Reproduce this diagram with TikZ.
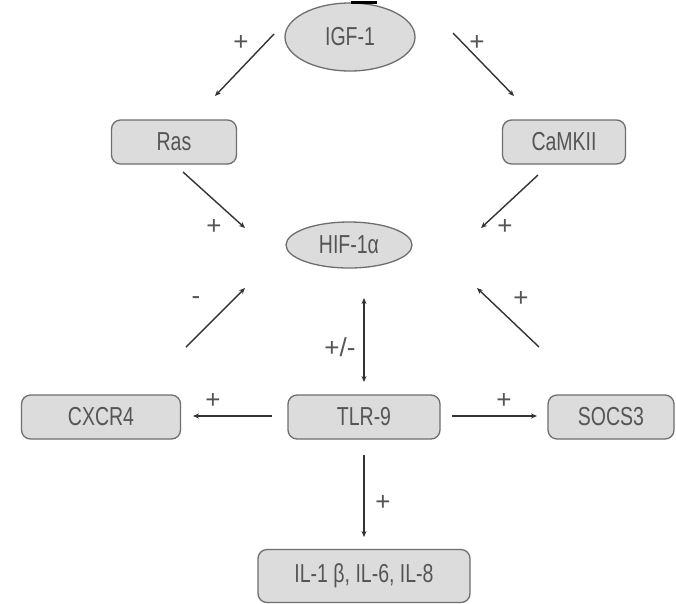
\documentclass[tikz,border=0pt]{standalone}
\usepackage{fontspec}
\setmainfont{Liberation Sans}[FakeStretch=0.75]
\newfontfamily\signfont{Liberation Sans}
\usetikzlibrary{shapes.geometric,arrows.meta}
\definecolor{boxfill}{HTML}{DCDCDC}
\definecolor{boxline}{HTML}{6E6E6E}
\definecolor{txt}{HTML}{555555}
\definecolor{arr}{HTML}{333333}
\tikzset{
  rbox/.style={draw=boxline, line width=1.3pt, fill=boxfill, rounded corners=9pt, inner sep=0pt, text=txt, font=\fontsize{26}{28}\selectfont},
  oval/.style={ellipse, draw=boxline, line width=1.3pt, fill=boxfill, inner sep=0pt, text=txt, font=\fontsize{26}{28}\selectfont},
  conn/.style={draw=arr, line width=1.4pt, -{Stealth[length=6pt,width=5pt]}},
  sign/.style={text=txt, font=\signfont\fontsize{26}{28}\selectfont, inner sep=0pt}
}
\begin{document}
\begin{tikzpicture}[x=1pt,y=-1pt]
\useasboundingbox (0,0) rectangle (676,603);
\fill[white] (0,0) rectangle (676,603);
% nodes
\node[oval, minimum width=130pt, minimum height=68pt] (igf) at (350,37) {IGF-1};
\node[rbox, minimum width=125pt, minimum height=44pt] (ras) at (174,142) {Ras};
\node[rbox, minimum width=123pt, minimum height=44pt] (camk) at (564,142) {CaMKII};
\node[oval, minimum width=126pt, minimum height=46pt] (hif) at (349,245) {HIF-1α};
\node[rbox, minimum width=159pt, minimum height=44pt] (cxcr) at (101,417) {CXCR4};
\node[rbox, minimum width=152pt, minimum height=44pt] (tlr) at (364,417) {TLR-9};
\node[rbox, minimum width=126pt, minimum height=44pt] (socs) at (611,417) {SOCS3};
\node[rbox, minimum width=212pt, minimum height=53pt] (il) at (364,576) {IL-1 β, IL-6, IL-8};
% dark thickening on top edge of IGF-1
\draw[black, line width=2.5pt] (351,2.5) -- (377,2.5);
% connector end points
\coordinate (a1) at (274,34); \coordinate (a2) at (215,96);
\coordinate (b1) at (453,33); \coordinate (b2) at (514,96);
\coordinate (c1) at (183,172); \coordinate (c2) at (245,228);
\coordinate (d1) at (538,175); \coordinate (d2) at (481,228);
\coordinate (e1) at (186,347); \coordinate (e2) at (245,288);
\coordinate (f1) at (539,347); \coordinate (f2) at (477,288);
\coordinate (g1) at (364,298); \coordinate (g2) at (364,382);
\coordinate (h1) at (272,416); \coordinate (h2) at (193,416);
\coordinate (i1) at (452,416); \coordinate (i2) at (537,416);
\coordinate (j1) at (364,455); \coordinate (j2) at (364,537);
% connectors
\draw[conn] (a1) -- (a2);
\draw[conn] (b1) -- (b2);
\draw[conn] (c1) -- (c2);
\draw[conn] (d1) -- (d2);
\draw[conn] (e1) -- (e2);
\draw[conn] (f1) -- (f2);
\draw[conn, {Stealth[length=6pt,width=5pt]}-{Stealth[length=6pt,width=5pt]}] (g1) -- (g2);
\draw[conn] (h1) -- (h2);
\draw[conn] (i1) -- (i2);
\draw[conn] (j1) -- (j2);
% signs
\node[sign] (s1) at (241,43) {+};
\node[sign] (s2) at (477,43) {+};
\node[sign] (s3) at (214,227) {+};
\node[sign] (s4) at (505,227) {+};
\node[sign] (s5) at (196,301) {-};
\node[sign] (s6) at (521,299) {+};
\node[sign] (s7) at (340,347) {+/-};
\node[sign] (s8) at (213,401) {+};
\node[sign] (s9) at (504,401) {+};
\node[sign] (s10) at (383,503) {+};
\end{tikzpicture}
\end{document}
